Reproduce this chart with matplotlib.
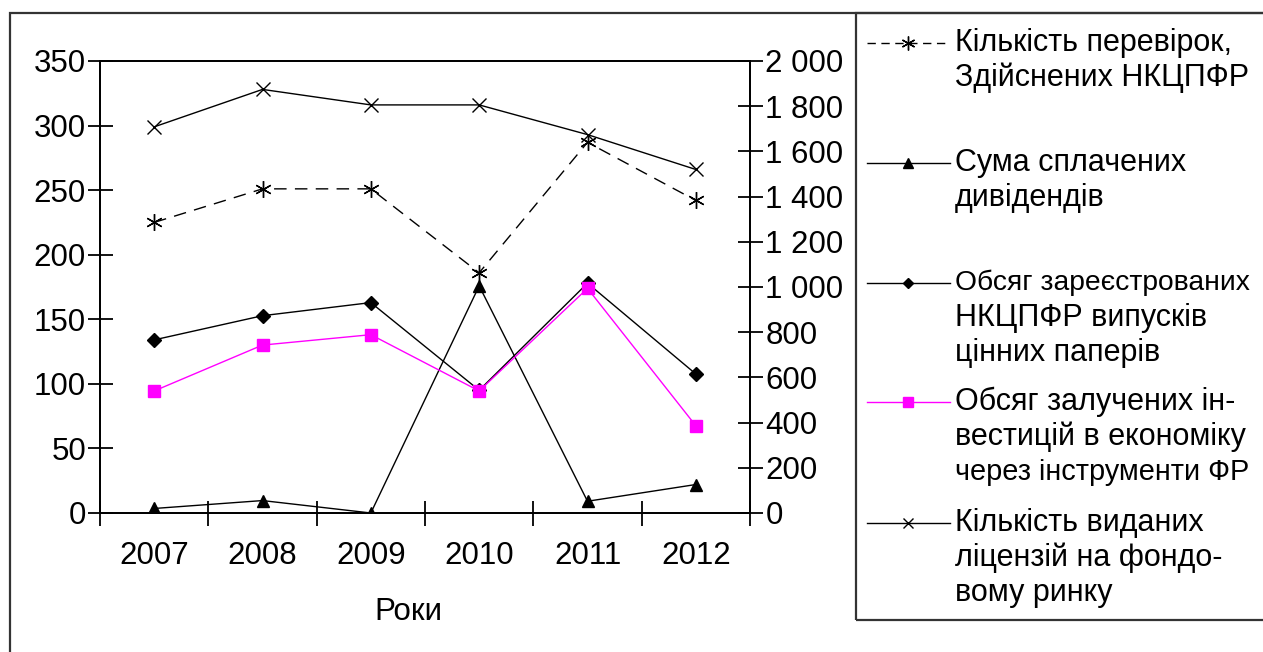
import matplotlib.pyplot as plt
from matplotlib.lines import Line2D
from matplotlib.patches import Rectangle

plt.rcParams['font.family'] = ['Liberation Sans', 'DejaVu Sans']

years = ['2007', '2008', '2009', '2010', '2011', '2012']

# left axis series
inspections = [225, 251, 251, 186, 287, 242]
licenses = [299, 328, 316, 316, 293, 266]

# right axis series
dividends = [20, 55, 0, 1005, 52, 126]
registered = [766, 873, 931, 543, 1017, 615]
investments = [540, 743, 789, 540, 994, 386]

legend_labels = [
    ['Кількість перевірок,', 'Здійснених НКЦПФР'],
    ['Сума сплачених', 'дивідендів'],
    ['Обсяг зареєстрованих', 'НКЦПФР випусків', 'цінних паперів'],
    ['Обсяг залучених ін-', 'вестицій в економіку', 'через інструменти ФР'],
    ['Кількість виданих', 'ліцензій на фондо-', 'вому ринку'],
]

W, H = 1263, 652
fs = 22.5
fig = plt.figure(figsize=(W / 100, H / 100), dpi=100)
ax = fig.add_axes([100 / W, 1 - 513 / H, 650 / W, 452 / H])
ax2 = ax.twinx()

x = list(range(len(years)))
lw = 1.0
dash = (0, (9, 6))

ax.plot(x, inspections, color='black', lw=lw, ls=dash,
        marker=(6, 2, 0), ms=12, mew=1.0)
ax.plot(x, licenses, color='black', lw=lw, marker='x', ms=10, mew=1.0)
ax2.plot(x, dividends, color='black', lw=lw, marker='^', ms=9)
ax2.plot(x, registered, color='black', lw=lw, marker='D', ms=7)
ax2.plot(x, investments, color='#ff00ff', lw=lw, marker='s', ms=9)

ax.set_xlim(-0.5, len(years) - 0.5)
ax.set_ylim(0, 350)
ax2.set_ylim(0, 2000)
ax.set_yticks(range(0, 351, 50))
ax2.set_yticks(range(0, 2001, 200))
ax2.set_yticklabels([f'{v:,}'.replace(',', ' ') for v in range(0, 2001, 200)])

# boundary ticks between years, year labels at the centres
ax.set_xticks([i - 0.5 for i in range(len(years) + 1)])
ax.set_xticklabels([])
ax.set_xticks(x, minor=True)
ax.set_xticklabels(years, minor=True)
ax.tick_params(axis='x', which='minor', length=0, pad=20, labelsize=fs)
ax.tick_params(axis='x', which='major', direction='inout', length=18, width=1.3)
ax.tick_params(axis='y', direction='inout', length=18, width=1.3,
               labelsize=fs, pad=1)
ax2.tick_params(axis='y', direction='inout', length=18, width=1.3,
                labelsize=fs, pad=2)

for a in (ax, ax2):
    for s in a.spines.values():
        s.set_linewidth(1.3)

fig.text(408 / W, 1 - 612 / H, 'Роки', fontsize=fs, ha='center', va='center')

# outer frame and legend box
fig.add_artist(Rectangle((10 / W, -0.1), 1.2, 1.1 - 13 / H,
                         transform=fig.transFigure, fill=False,
                         edgecolor='#333333', lw=1.6))
fig.add_artist(Rectangle((856 / W, 1 - 620 / H), 0.5, 607 / H,
                         transform=fig.transFigure, fill=False,
                         edgecolor='#333333', lw=1.6))

# legend samples
samples = [
    dict(color='black', ls=(0, (6, 4)), marker=(6, 2, 0), ms=10),
    dict(color='black', ls='-', marker='^', ms=7),
    dict(color='black', ls='-', marker='D', ms=5),
    dict(color='#ff00ff', ls='-', marker='s', ms=7),
    dict(color='black', ls='-', marker='x', ms=7),
]
entry_y = [43, 163, 283, 402, 523]
line_step = 35
leg_fs = 22
narrow = {'Обсяг зареєстрованих': 20.3, 'через інструменти ФР': 20.8}
for y0, style, lines in zip(entry_y, samples, legend_labels):
    yf = 1 - y0 / H
    fig.add_artist(Line2D([867 / W, 950 / W], [yf, yf], transform=fig.transFigure,
                          lw=1.0, color=style['color'], ls=style['ls']))
    fig.add_artist(Line2D([908 / W], [yf], transform=fig.transFigure,
                          marker=style['marker'], ms=style['ms'],
                          color=style['color'], mew=1.0, ls='none'))
    for k, t in enumerate(lines):
        fig.text(955 / W, 1 - (y0 + k * line_step) / H, t,
                 fontsize=narrow.get(t, leg_fs), ha='left', va='center')

fig.savefig('out.png', dpi=100)
